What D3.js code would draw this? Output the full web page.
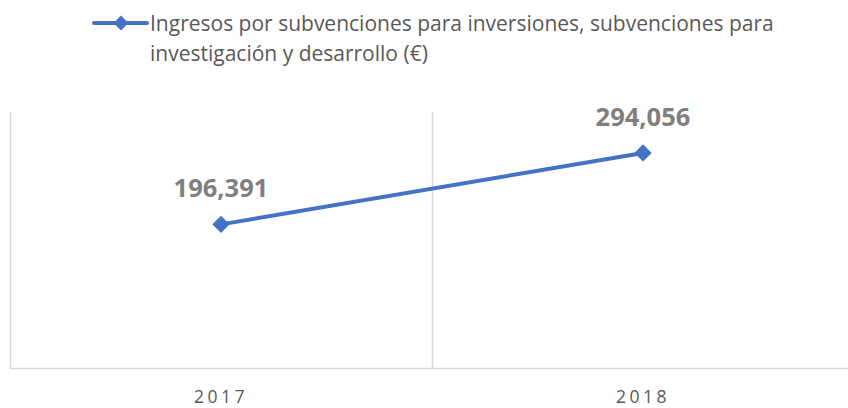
<!DOCTYPE html>
<html>
<head>
<meta charset="utf-8">
<script src="https://cdn.jsdelivr.net/npm/d3@7"></script>
<style>
  html, body { margin: 0; padding: 0; background: #fff; }
  #chart { width: 848px; height: 408px; }
</style>
</head>
<body>
<div id="chart"></div>
<script>
const years = ["2017", "2018"];
const values = [196391, 294056];
const seriesName = ["Ingresos por subvenciones para inversiones, subvenciones para", "investigación y desarrollo (€)"];

(function() {
  const width = 848, height = 408;
  const font = "'Open Sans', 'Liberation Sans', sans-serif";
  const blue = "#4472c4";

  const svg = d3.select("#chart").append("svg")
    .attr("width", width).attr("height", height);

  const x = d3.scaleBand().domain(years).range([10, 854]);
  const y = d3.scaleLinear().domain([0, 350000]).range([368, 112]);

  // gridlines between categories
  svg.append("g").selectAll("line")
    .data(years)
    .join("line")
    .attr("x1", d => x(d) + 0.5).attr("x2", d => x(d) + 0.5)
    .attr("y1", y(350000)).attr("y2", y(0))
    .attr("stroke", "#d9d9d9").attr("stroke-width", 1.5);

  // x axis
  const xAxis = svg.append("g")
    .attr("transform", `translate(0,${y(0)})`)
    .call(d3.axisBottom(x).tickSize(0).tickPadding(0));
  xAxis.select(".domain").attr("stroke", "#d9d9d9").attr("stroke-width", 1.5)
    .attr("d", `M10,0.5H${width}`);
  xAxis.selectAll("text")
    .attr("dy", null).attr("y", 35)
    .attr("font-family", font).attr("font-size", 17.5).attr("fill", "#595959")
    .attr("letter-spacing", "3.5px");

  const data = years.map((d, i) => ({ year: d, value: values[i] }));
  const cx = d => x(d.year) + x.bandwidth() / 2;

  svg.append("path")
    .datum(data)
    .attr("fill", "none").attr("stroke", blue).attr("stroke-width", 4)
    .attr("stroke-linecap", "round")
    .attr("d", d3.line().x(cx).y(d => y(d.value)));

  svg.selectAll(".pt")
    .data(data)
    .join("path")
    .attr("class", "pt")
    .attr("transform", d => `translate(${cx(d)},${y(d.value)}) rotate(45)`)
    .attr("d", d3.symbol().type(d3.symbolSquare).size(150))
    .attr("fill", blue);

  svg.selectAll(".lbl")
    .data(data)
    .join("text")
    .attr("class", "lbl")
    .attr("x", cx).attr("y", d => y(d.value) - 27)
    .attr("text-anchor", "middle")
    .attr("font-family", font).attr("font-weight", "bold").attr("font-size", 25.5)
    .attr("fill", "#7f7f7f")
    .text(d => d3.format(",")(d.value));

  // legend
  const lg = svg.append("g");
  lg.append("line").attr("x1", 94).attr("x2", 147).attr("y1", 23).attr("y2", 23)
    .attr("stroke", blue).attr("stroke-width", 4).attr("stroke-linecap", "round");
  lg.append("path").attr("transform", "translate(121,23) rotate(45)")
    .attr("d", d3.symbol().type(d3.symbolSquare).size(110)).attr("fill", blue);
  lg.selectAll("text")
    .data(seriesName)
    .join("text")
    .attr("x", 150).attr("y", (d, i) => 31 + i * 30)
    .attr("font-family", font).attr("font-size", 21).attr("fill", "#595959")
    .text(d => d);
})();
</script>
</body>
</html>
